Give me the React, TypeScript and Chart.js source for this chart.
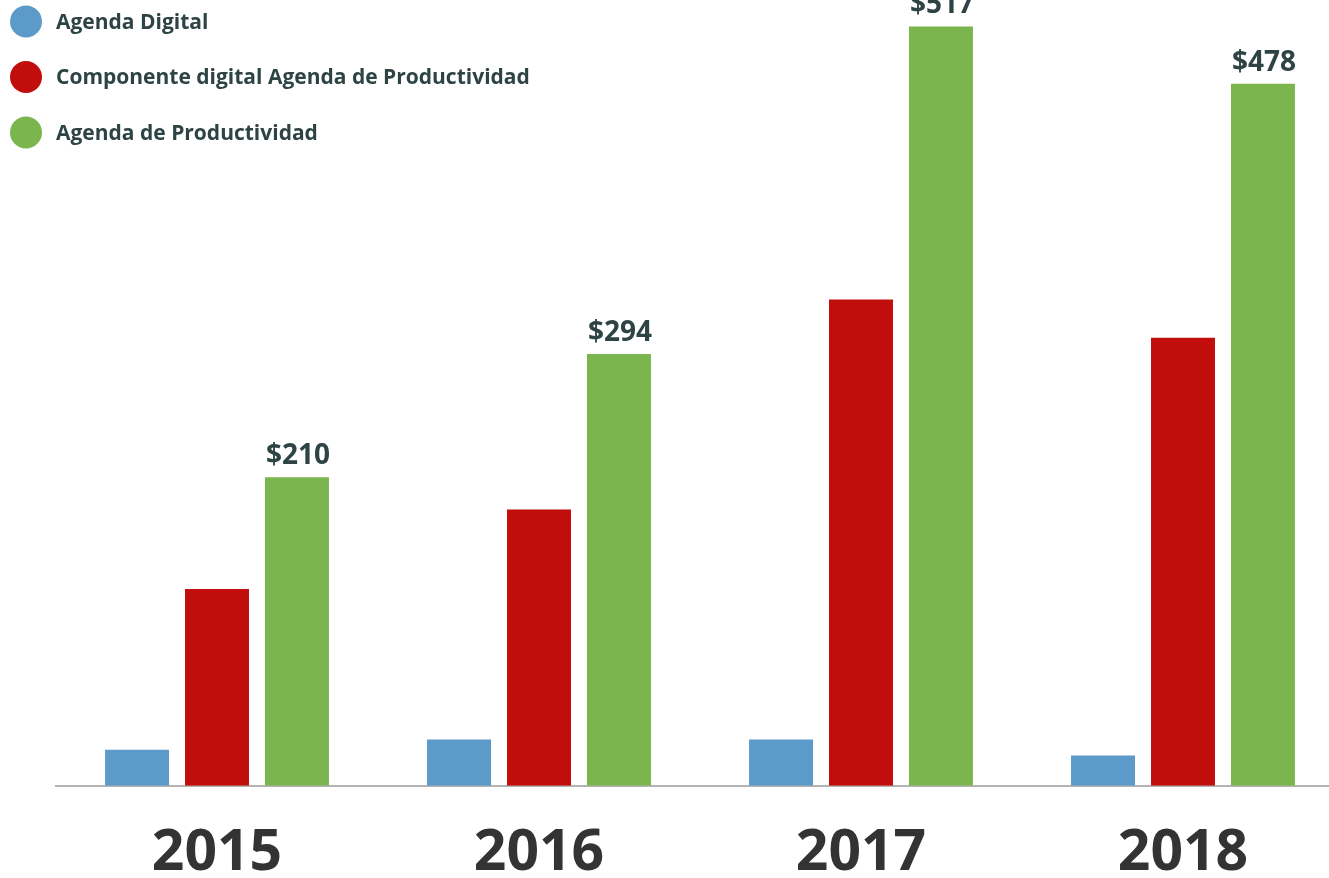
import React, { useEffect, useRef } from "react";
import { Chart, registerables } from "chart.js";

Chart.register(...registerables);

const categories = ["2015", "2016", "2017", "2018"];
const agendaDigital = [24.5, 31.5, 31.5, 20.5];
const componenteDigital = [134, 188, 331, 305];
const agendaProductividad = [210, 294, 517, 478];
const seriesNames = [
  "Agenda Digital",
  "Componente digital Agenda de Productividad",
  "Agenda de Productividad",
];
const seriesColors = ["#5b9ac9", "#c20d0d", "#7bb54e"];

const FONT = "'Open Sans', 'Noto Sans', sans-serif";

const legendPlugin = {
  id: "customLegend",
  afterDraw(chart: any) {
    const ctx = chart.ctx;
    ctx.save();
    chart.data.datasets.forEach((ds: any, i: number) => {
      const y = 21.5 + i * 55.5;
      ctx.beginPath();
      ctx.fillStyle = ds.backgroundColor;
      ctx.arc(26, y, 16, 0, Math.PI * 2);
      ctx.fill();
      ctx.fillStyle = "#2e4444";
      ctx.font = `bold 21px ${FONT}`;
      ctx.textAlign = "left";
      ctx.textBaseline = "alphabetic";
      ctx.fillText(ds.label, 56, y + 7);
    });
    ctx.restore();
  },
};

const valueLabelPlugin = {
  id: "valueLabels",
  afterDatasetsDraw(chart: any) {
    const ctx = chart.ctx;
    const meta = chart.getDatasetMeta(2);
    ctx.save();
    ctx.fillStyle = "#2e4444";
    ctx.font = `bold 28px ${FONT}`;
    ctx.textAlign = "center";
    ctx.textBaseline = "alphabetic";
    meta.data.forEach((bar: any, i: number) => {
      const v = chart.data.datasets[2].data[i];
      ctx.fillText("$" + v, bar.x + 1, bar.y - 13);
    });
    ctx.restore();
  },
};

export default function App() {
  const ref = useRef<HTMLCanvasElement | null>(null);
  useEffect(() => {
    if (!ref.current) return;
    const chart = new Chart(ref.current, {
      type: "bar",
      data: {
        labels: categories,
        datasets: [
          { label: seriesNames[0], data: agendaDigital, backgroundColor: seriesColors[0] },
          { label: seriesNames[1], data: componenteDigital, backgroundColor: seriesColors[1] },
          { label: seriesNames[2], data: agendaProductividad, backgroundColor: seriesColors[2] },
        ],
      },
      options: {
        animation: false,
        responsive: true,
        maintainAspectRatio: false,
        layout: { padding: { left: 56, right: 16, top: 0, bottom: 0 } },
        datasets: {
          bar: { categoryPercentage: 0.745, barPercentage: 0.8 },
        },
        plugins: {
          legend: { display: false },
          tooltip: { enabled: false },
        },
        scales: {
          x: {
            grid: { display: false, drawTicks: false },
            border: { display: true, color: "#b4b4b4", width: 2 },
            ticks: {
              color: "#333333",
              font: { family: FONT, size: 57, weight: "bold", lineHeight: 0.9 },
              padding: 42,
            },
          },
          y: {
            display: false,
            min: 0,
            max: 535,
          },
        },
      },
      plugins: [legendPlugin, valueLabelPlugin],
    });
    return () => chart.destroy();
  }, []);
  return (
    <div style={{ position: "absolute", left: 0, top: 0, width: 1329, height: 878, overflow: "hidden", background: "#fff" }}>
      <div style={{ position: "relative", width: 1360, height: 921 }}>
        <canvas ref={ref} />
      </div>
    </div>
  );
}
